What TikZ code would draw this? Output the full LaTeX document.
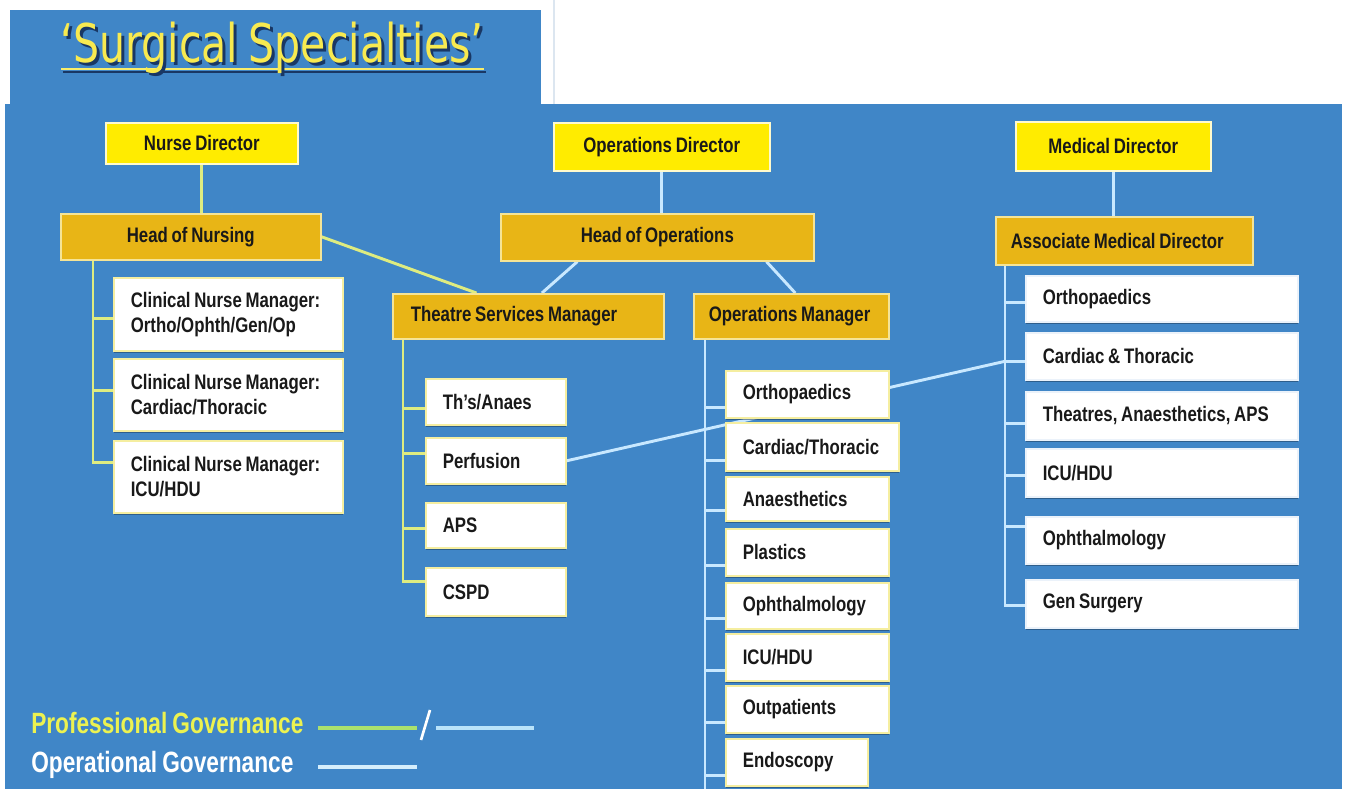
\documentclass[tikz,border=0pt]{standalone}
\usepackage{fontspec}
\setmainfont{Liberation Sans}
\newfontfamily\boxfont{Liberation Sans}[FakeStretch=0.8, WordSpace=0.8]
\newfontfamily\legfont{Liberation Sans}[FakeStretch=0.773, WordSpace=0.8]
\newfontfamily\titlefont{DejaVu Sans}[FakeStretch=0.77, WordSpace=0.8]
\usetikzlibrary{shadows,calc}
\pgfdeclarelayer{bg}
\pgfdeclarelayer{lines}
\pgfsetlayers{bg,lines,main}
\definecolor{bgblue}{RGB}{64,134,199}
\definecolor{diryellow}{RGB}{255,236,0}
\definecolor{headgold}{RGB}{232,181,22}
\definecolor{dirborder}{RGB}{255,250,205}
\definecolor{headborder}{RGB}{245,228,150}
\definecolor{wborder}{RGB}{245,238,160}
\definecolor{wborderr}{RGB}{235,242,250}
\definecolor{boxtext}{RGB}{25,25,25}
\definecolor{profc}{RGB}{222,236,128}
\definecolor{operc}{RGB}{200,232,255}
\definecolor{shadowc}{RGB}{30,55,80}
\definecolor{titleyellow}{RGB}{248,234,80}
\definecolor{titleshadow}{RGB}{25,55,100}
\definecolor{legprof}{RGB}{236,242,80}
\definecolor{leggreen}{RGB}{170,225,110}
\definecolor{legblue}{RGB}{185,227,250}
\definecolor{faint}{RGB}{220,230,240}
\newcommand{\titletxt}{‘Surgical Specialties’}
\tikzset{
  boxbase/.style={anchor=north west, inner xsep=12.75pt, inner ysep=0pt,
    font=\boxfont\bfseries\fontsize{15.75}{18.75}\selectfont, text=boxtext, line width=1.2pt},
  dirbox/.style={boxbase, fill=diryellow, draw=dirborder, align=center},
  headbox/.style={boxbase, fill=headgold, draw=headborder, align=center},
  headboxl/.style={boxbase, fill=headgold, draw=headborder, align=flush left},
  wbox/.style={boxbase, fill=white, draw=wborder, align=flush left,
    drop shadow={shadow xshift=0pt, shadow yshift=-2pt, fill=shadowc, opacity=0.5}},
  wboxr/.style={wbox, draw=wborderr},
  profline/.style={draw=profc, line width=2.2pt},
  operline/.style={draw=operc, line width=2.2pt},
  legtext/.style={anchor=base west, inner sep=0pt, font=\legfont\bfseries\fontsize{22}{24}\selectfont},
  titletext/.style={anchor=base west, inner sep=0pt, font=\titlefont\fontsize{40}{44}\selectfont}
}
\begin{document}
\begin{tikzpicture}[x=0.75pt, y=-0.75pt]
\useasboundingbox (0,0) rectangle (1347,789);
\begin{pgfonlayer}{bg}
  \fill[white] (0,0) rectangle (1347,789);
  \fill[bgblue] (10,10) rectangle (541,106);
  \fill[bgblue] (5,104) rectangle (1342,789);
  \draw[faint, line width=1.8pt] (554,0) -- (554,104);
\end{pgfonlayer}

% title (with its dark drop shadow inside the same node)
\node[titletext, text=titleyellow] (title) at (60,62)
  {\rlap{\hspace{2.25pt}\raisebox{-2.25pt}{\color{titleshadow}\titletxt}}\titletxt};

% nursing column
\node[dirbox, minimum width=144pt, minimum height=30.75pt] (nd) at (105,122) {Nurse Director};
\node[headbox, minimum width=195pt, minimum height=34.5pt] (hn) at (60,213) {Head of Nursing};
\node[wbox, text width=146.25pt, minimum height=54.75pt] (cnm1) at (113,277) {\mbox{Clinical Nurse Manager:}\\\mbox{Ortho/Ophth/Gen/Op}};
\node[wbox, text width=146.25pt, minimum height=54pt] (cnm2) at (113,358) {\mbox{Clinical Nurse Manager:}\\\mbox{Cardiac/Thoracic}};
\node[wbox, text width=146.25pt, minimum height=54pt] (cnm3) at (113,440) {\mbox{Clinical Nurse Manager:}\\\mbox{ICU/HDU}};

% operations column
\node[dirbox, minimum width=162pt, minimum height=36pt] (od) at (553,122) {Operations Director};
\node[headbox, minimum width=234.75pt, minimum height=35.25pt] (ho) at (500,213) {Head of Operations};
\node[headboxl, text width=176.25pt, inner xsep=13.5pt, minimum height=33.75pt] (tsm) at (392,293) {Theatre Services Manager};
\node[headboxl, text width=123.75pt, inner xsep=11.25pt, minimum height=33.75pt] (om) at (693,293) {Operations Manager};

\node[wbox, text width=79.5pt, minimum height=34.5pt] (ths) at (425,378) {Th’s/Anaes};
\node[wbox, text width=79.5pt, minimum height=34.5pt] (perf) at (425,437) {Perfusion};
\node[wbox, text width=79.5pt, minimum height=33.75pt] (aps) at (425,502) {APS};
\node[wbox, text width=79.5pt, minimum height=36pt] (cspd) at (425,567) {CSPD};

\node[wbox, text width=96.75pt, minimum height=35.25pt] (omortho) at (725,370) {Orthopaedics};
\node[wbox, text width=104.25pt, minimum height=36pt] (omcard) at (725,422) {Cardiac/Thoracic};
\node[wbox, text width=96.75pt, minimum height=33pt] (omanaes) at (725,476) {Anaesthetics};
\node[wbox, text width=96.75pt, minimum height=35.25pt] (omplast) at (725,528) {Plastics};
\node[wbox, text width=96.75pt, minimum height=34.5pt] (omophth) at (725,582) {Ophthalmology};
\node[wbox, text width=96.75pt, minimum height=35.25pt] (omicu) at (725,633) {ICU/HDU};
\node[wbox, text width=96.75pt, minimum height=35.25pt] (omout) at (725,685) {Outpatients};
\node[wbox, text width=81pt, minimum height=35.25pt] (omendo) at (725,738) {Endoscopy};

% medical column
\node[dirbox, minimum width=146.25pt, minimum height=36.75pt] (md) at (1015,121) {Medical Director};
\node[headboxl, text width=170.25pt, inner xsep=11.25pt, minimum height=36pt] (amd) at (995,216) {Associate Medical Director};
\node[wboxr, text width=178.5pt, minimum height=34.5pt] (mortho) at (1025,275) {Orthopaedics};
\node[wboxr, text width=178.5pt, minimum height=35.25pt] (mct) at (1025,332) {Cardiac \& Thoracic};
\node[wboxr, text width=178.5pt, minimum height=36pt] (mthe) at (1025,391) {Theatres, Anaesthetics, APS};
\node[wboxr, text width=178.5pt, minimum height=36pt] (micu) at (1025,448) {ICU/HDU};
\node[wboxr, text width=178.5pt, minimum height=35.25pt] (mophth) at (1025,516) {Ophthalmology};
\node[wboxr, text width=178.5pt, minimum height=36pt] (mgen) at (1025,579) {Gen Surgery};

% legend
\node[legtext, text=legprof] (lprof) at (31,733) {Professional Governance};
\node[legtext, text=white] (loper) at (31,772) {Operational Governance};

% coordinates
\coordinate (ntree) at ($(hn.south west)+(33,0)$);
\coordinate (ttree) at ($(tsm.south west)+(11,0)$);
\coordinate (otree) at ($(om.south west)+(12,0)$);
\coordinate (oend) at (705,789);
\coordinate (mtree) at ($(amd.south west)+(10,0)$);
\path (mct.west) ++(0,5) coordinate (ctb);
\coordinate (ctj) at (ctb -| mtree);
\coordinate (g1) at (318,728);
\coordinate (g2) at (417,728);
\coordinate (s1) at (421,740);
\coordinate (s2) at (430,710);
\coordinate (b1) at (436,728);
\coordinate (b2) at (534,728);
\coordinate (o1) at (318,767);
\coordinate (o2) at (417,767);

\begin{pgfonlayer}{lines}
  % title underline
  \draw[titleshadow, line width=2.2pt] ($(title.base west)+(3,10)$) -- ($(title.base east)+(2,10)$);
  \draw[titleyellow!85!white, line width=2pt] ($(title.base west)+(1,7)$) -- ($(title.base east)+(0,7)$);

  % nursing
  \draw[profline] (nd.south) -- (nd.south |- hn.north);
  \draw[profline] (ntree) |- ($(cnm3.west)+(0,-14)$);
  \draw[profline] ($(cnm1.west)+(0,4)$) -| (ntree);
  \draw[profline] ($(cnm2.west)+(0,-4)$) -| (ntree);
  \draw[profline] (hn.east) -- ($(tsm.north west)!0.31!(tsm.north east)$);

  % operations
  \draw[operline] (od.south) -- (od.south |- ho.north);
  \draw[operline] ($(ho.south west)!0.246!(ho.south east)$) -- ($(tsm.north west)!0.55!(tsm.north east)$);
  \draw[operline] ($(ho.south west)!0.847!(ho.south east)$) -- ($(om.north west)!0.52!(om.north east)$);

  % theatre services tree
  \draw[profline] (ttree) |- ($(cspd.west)+(0,-10)$);
  \draw[profline] ($(ths.west)+(0,7)$) -| (ttree);
  \draw[profline] ($(perf.west)+(0,-7)$) -| (ttree);
  \draw[profline] ($(aps.west)+(0,3)$) -| (ttree);

  % operations manager tree
  \draw[operline] (otree) -- (oend);
  \foreach \b in {omortho,omcard,omanaes,omplast,omophth,omicu,omout,omendo}{
    \draw[operline] ($(\b.south west)+(0,-11)$) -| (otree);
  }

  % medical
  \draw[operline] (md.south) -- (md.south |- amd.north);
  \draw[operline] (mtree) |- ($(mgen.west)+(0,2)$);
  \draw[operline] ($(mortho.west)+(0,4)$) -| (mtree);
  \draw[operline] (ctb) -- (ctj);
  \draw[operline] ($(mthe.west)+(0,8)$) -| (mtree);
  \draw[operline] ($(micu.west)+(0,3)$) -| (mtree);
  \draw[operline] ($(mophth.west)+(0,-14)$) -| (mtree);
  \draw[operline] (perf.east) -- (ctj);

  % legend lines
  \draw[leggreen, line width=3pt] (g1) -- (g2);
  \draw[white, line width=2pt] (s1) -- (s2);
  \draw[legblue, line width=3pt] (b1) -- (b2);
  \draw[legblue!60!white, line width=3pt] (o1) -- (o2);
\end{pgfonlayer}
\end{tikzpicture}
\end{document}
